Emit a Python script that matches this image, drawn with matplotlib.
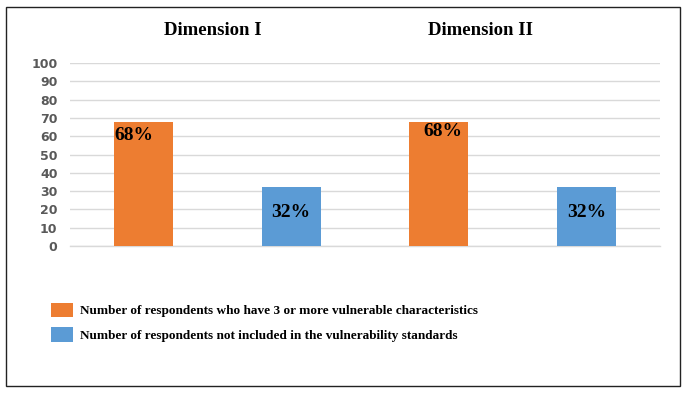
import matplotlib.pyplot as plt
from matplotlib.patches import Rectangle, Patch

# data
dimensions = ['Dimension I', 'Dimension II']
series_names = ['Number of respondents who have 3 or more vulnerable characteristics',
                'Number of respondents not included in the vulnerability standards']
vulnerable = [68, 68]
not_included = [32, 32]
colors = ['#ED7D31', '#5B9BD5']

fig = plt.figure(figsize=(6.85, 3.93), dpi=100)
fig.patch.set_facecolor('white')
# outer frame
fig.add_artist(Rectangle((6 / 685, 1 - 386 / 393), 674 / 685, 379 / 393,
                         transform=fig.transFigure, fill=False,
                         edgecolor='#222222', linewidth=1.0))

ax = fig.add_axes([70 / 685, 1 - 246 / 393, 590 / 685, 183 / 393])

positions = []
heights = []
bar_colors = []
for i in range(len(dimensions)):
    positions += [2 * i, 2 * i + 1]
    heights += [vulnerable[i], not_included[i]]
    bar_colors += colors

bars = ax.bar(positions, heights, width=0.4, color=bar_colors, zorder=3)

# data labels
label_offsets = [(-7, -4), (0, -12), (3, -1), (0, -12)]
for b, h, off in zip(bars, heights, label_offsets):
    ax.annotate(f'{h}%', (b.get_x() + b.get_width() / 2, h),
                xytext=off, textcoords='offset points', ha='center', va='top',
                fontsize=14, fontweight='bold', family='Liberation Serif',
                color='black', zorder=4)

ax.set_xlim(-0.5, 3.5)
ax.set_ylim(0, 100)
ax.set_yticks(range(0, 101, 10))
ax.set_xticks([])
ax.yaxis.grid(True, color='#d9d9d9', linewidth=1.0, zorder=0)
ax.axhline(0, color='#d9d9d9', linewidth=1.0, zorder=1, clip_on=False)
for s in ax.spines.values():
    s.set_visible(False)
ax.tick_params(axis='y', length=0, pad=9, labelsize=9, labelcolor='#595959')
for lbl in ax.get_yticklabels():
    lbl.set_fontweight('bold')

# group titles
title_x = [0.47, 2.28]
for x, name in zip(title_x, dimensions):
    ax.text(x, 1.0 + 24 / 183, name, transform=ax.get_xaxis_transform(),
            ha='center', va='bottom', fontsize=13.5, fontweight='bold',
            family='Liberation Serif')

handles = [Patch(facecolor=c, edgecolor='none') for c in colors]
fig.legend(handles, series_names, loc='upper left',
           bbox_to_anchor=(39 / 685, 1 - 291 / 393), frameon=False,
           prop={'family': 'Liberation Serif', 'weight': 'bold', 'size': 9.5},
           handlelength=1.7, handleheight=1.3, handletextpad=0.5,
           labelspacing=0.75)

fig.savefig('out.png', dpi=100)
